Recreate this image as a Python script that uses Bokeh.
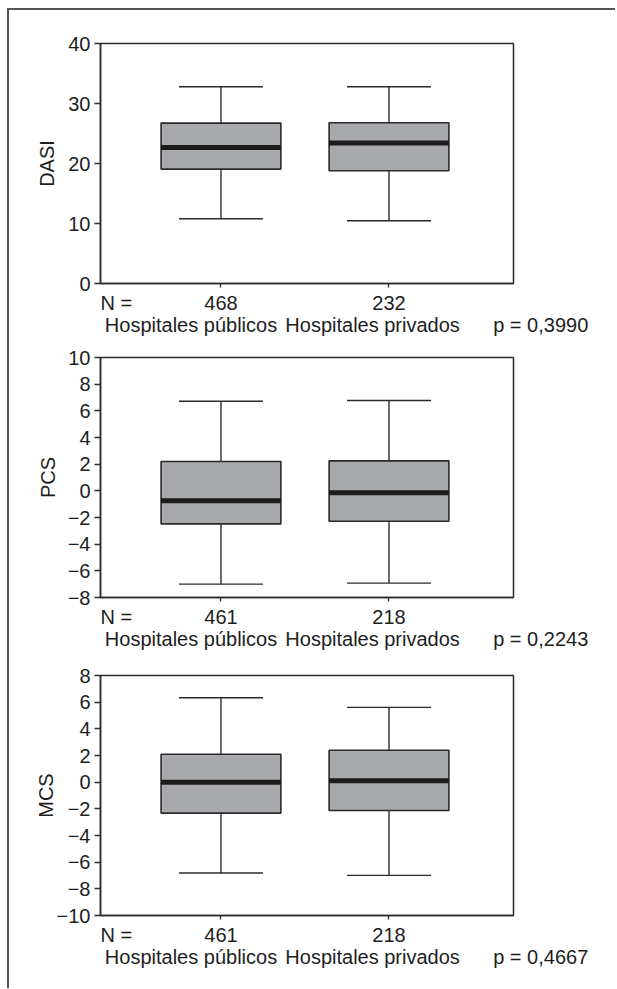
from bokeh.plotting import figure
from bokeh.models import ColumnDataSource, FixedTicker, Range1d, LinearAxis
from bokeh.layouts import column
from bokeh.embed import file_html
from bokeh.resources import INLINE

# ---------------- data ----------------
groups = ["Hospitales públicos", "Hospitales privados"]
group_x = [1, 2]

dasi_low = [10.8, 10.45]
dasi_q1 = [19.07, 18.8]
dasi_med = [22.67, 23.4]
dasi_q3 = [26.73, 26.8]
dasi_high = [32.8, 32.8]
dasi_n = [468, 232]
dasi_p = "0,3990"
dasi_ticks = [0, 10, 20, 30, 40]

pcs_low = [-7.0, -6.92]
pcs_q1 = [-2.48, -2.28]
pcs_med = [-0.75, -0.15]
pcs_q3 = [2.2, 2.25]
pcs_high = [6.72, 6.77]
pcs_n = [461, 218]
pcs_p = "0,2243"
pcs_ticks = [-8, -6, -4, -2, 0, 2, 4, 6, 8, 10]

mcs_low = [-6.81, -6.99]
mcs_q1 = [-2.32, -2.12]
mcs_med = [0.0, 0.1]
mcs_q3 = [2.09, 2.39]
mcs_high = [6.33, 5.61]
mcs_n = [461, 218]
mcs_p = "0,4667"
mcs_ticks = [-10, -8, -6, -4, -2, 0, 2, 4, 6, 8]

# ---------------- style ----------------
FONT = "Liberation Sans"
FS = "20px"
TXT = "#1e1e1e"
LINE = "#2b2b2b"
BOX_FILL = "#a8a9ac"
BOX_W = 0.713
CAP_W = 0.5
X0, X1 = 0.283, 2.741
FRAME_W = 413
PPU = FRAME_W / (X1 - X0)
NB = "\u00a0"


def px(offset):
    """screen offset from frame left -> x data position"""
    return X0 + offset / PPU


def make_panel(name, lows, q1s, meds, q3s, highs, ns, pval, ticks,
               height, top, bottom, lab_standoff):
    p = figure(width=606, height=height,
               x_range=Range1d(X0, X1),
               y_range=Range1d(min(ticks), max(ticks)),
               output_backend="svg", toolbar_location=None,
               min_border_left=91, min_border_right=606 - 91 - FRAME_W,
               min_border_top=top, min_border_bottom=bottom)
    p.grid.visible = False
    p.outline_line_color = LINE
    p.outline_line_width = 1.5
    p.outline_line_alpha = 1.0

    src = ColumnDataSource(dict(
        x=group_x, low=lows, q1=q1s, med=meds, q3=q3s, high=highs,
        cx0=[v - CAP_W / 2 for v in group_x],
        cx1=[v + CAP_W / 2 for v in group_x],
    ))
    for y0, y1 in (("q3", "high"), ("q1", "low")):
        p.segment(x0="x", y0=y0, x1="x", y1=y1, source=src,
                  line_color=LINE, line_width=1.4)
    for yy in ("high", "low"):
        p.segment(x0="cx0", y0=yy, x1="cx1", y1=yy, source=src,
                  line_color=LINE, line_width=1.4)
    p.vbar(x="x", width=BOX_W, bottom="q1", top="q3", source=src,
           fill_color=BOX_FILL, line_color=LINE, line_width=1.6)
    p.rect(x="x", y="med", width=BOX_W, height=5, height_units="screen",
           source=src, fill_color="#1c1c1c", line_color=None)

    ya = p.yaxis[0]
    ya.ticker = FixedTicker(ticks=ticks)
    ya.major_label_overrides = {t: str(t).replace("-", "\u2212") for t in ticks if t < 0}
    ya.axis_label = name
    ya.axis_label_text_font = FONT
    ya.axis_label_text_font_size = FS
    ya.axis_label_text_font_style = "normal"
    ya.axis_label_text_color = TXT
    ya.axis_label_standoff = lab_standoff
    ya.major_label_text_font = FONT
    ya.major_label_text_font_size = FS
    ya.major_label_text_color = TXT
    ya.major_label_standoff = 4
    ya.major_tick_out = 6
    ya.major_tick_in = 0
    ya.minor_tick_out = 0
    ya.minor_tick_in = 0
    ya.axis_line_color = LINE
    ya.axis_line_width = 1.5
    ya.major_tick_line_color = LINE
    ya.major_tick_line_width = 1.3

    # axis A: line + tick marks at the groups
    xa = p.xaxis[0]
    xa.ticker = FixedTicker(ticks=group_x)
    xa.major_label_overrides = {g: "" for g in group_x}
    xa.major_label_text_font_size = "1px"
    xa.major_label_standoff = 0
    xa.major_tick_out = 4
    xa.major_tick_in = 0
    xa.minor_tick_out = 0
    xa.minor_tick_in = 0
    xa.axis_line_color = LINE
    xa.axis_line_width = 1.5
    xa.major_tick_line_color = LINE
    xa.major_tick_line_width = 1.3

    # axis B: the texts under the plot (N row + group/p row)
    t_n = px(15.8)
    t_g1 = px(90.5)
    t_g2 = px(336.3)
    bt = [t_n, t_g1, group_x[0], group_x[1], t_g2]
    bl = {t_n: "N =",
          t_g1: "\n" + groups[0],
          group_x[0]: str(ns[0]),
          group_x[1]: str(ns[1]),
          t_g2: "\n" + groups[1] + NB * 6 + "p = " + pval}
    xb = LinearAxis(ticker=FixedTicker(ticks=bt), major_label_overrides=bl,
                    axis_line_color=None, major_tick_line_color=None,
                    major_tick_out=0, major_tick_in=0,
                    minor_tick_out=0, minor_tick_in=0,
                    major_label_standoff=4,
                    major_label_text_font=FONT, major_label_text_font_size=FS,
                    major_label_text_color=TXT,
                    major_label_text_line_height=1.0)
    p.add_layout(xb, "below")
    return p


f1 = make_panel("DASI", dasi_low, dasi_q1, dasi_med, dasi_q3, dasi_high,
                dasi_n, dasi_p, dasi_ticks, 330, 33, 57, 7)
f2 = make_panel("PCS", pcs_low, pcs_q1, pcs_med, pcs_q3, pcs_high,
                pcs_n, pcs_p, pcs_ticks, 314, 17, 57, 6)
f3 = make_panel("MCS", mcs_low, mcs_q1, mcs_med, mcs_q3, mcs_high,
                mcs_n, mcs_p, mcs_ticks, 334, 21, 73, -3)

layout = column(f1, f2, f3, margin=(8, 0, 0, 7),
                styles={"border-top": "2px solid #555555",
                        "border-left": "2px solid #555555"})

open("out.html", "w").write(file_html(layout, INLINE))
